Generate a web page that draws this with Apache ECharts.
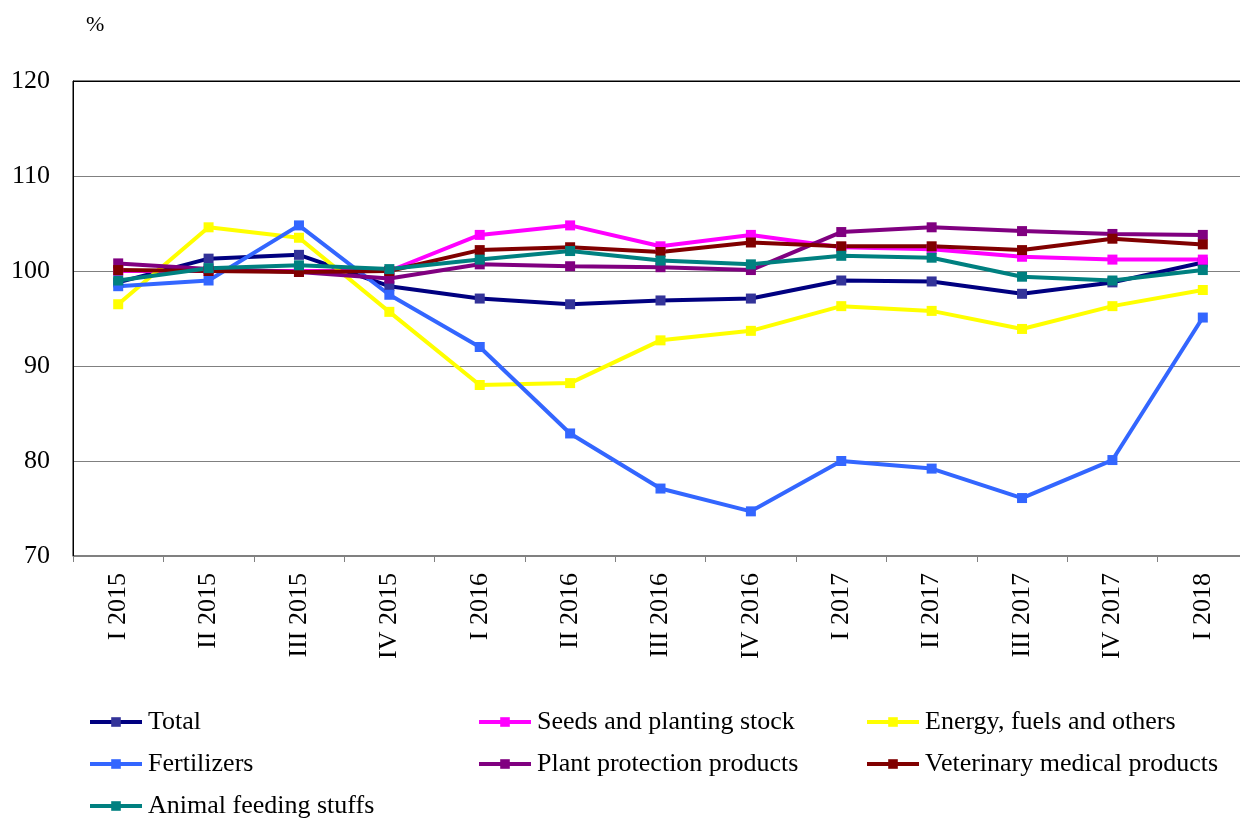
<!DOCTYPE html>
<html>
<head>
<meta charset="utf-8">
<script src="https://cdn.jsdelivr.net/npm/echarts@6/dist/echarts.min.js"></script>
<style>
  html, body { margin: 0; padding: 0; background: #fff; }
  #chart { width: 1240px; height: 819px; }
</style>
</head>
<body>
<div id="chart"></div>
<script>
// quarters on the x axis
const quarters = ['I 2015', 'II 2015', 'III 2015', 'IV 2015', 'I 2016', 'II 2016', 'III 2016',
  'IV 2016', 'I 2017', 'II 2017', 'III 2017', 'IV 2017', 'I 2018'];

// price indices, %
const total = [98.8, 101.3, 101.7, 98.4, 97.1, 96.5, 96.9, 97.1, 99.0, 98.9, 97.6, 98.8, 100.9];
const seeds = [100.0, 100.0, 100.0, 100.0, 103.8, 104.8, 102.6, 103.8, 102.5, 102.3, 101.5, 101.2, 101.2];
const energy = [96.5, 104.6, 103.5, 95.7, 88.0, 88.2, 92.7, 93.7, 96.3, 95.8, 93.9, 96.3, 98.0];
const fertilizers = [98.4, 99.0, 104.8, 97.5, 92.0, 82.9, 77.1, 74.7, 80.0, 79.2, 76.1, 80.1, 95.1];
const plantProtection = [100.8, 100.2, 99.9, 99.2, 100.7, 100.5, 100.4, 100.1, 104.1, 104.6, 104.2, 103.9, 103.8];
const veterinary = [100.1, 100.0, 99.9, 100.0, 102.2, 102.5, 102.0, 103.0, 102.6, 102.6, 102.2, 103.4, 102.8];
const animalFeed = [99.0, 100.3, 100.6, 100.2, 101.2, 102.1, 101.1, 100.7, 101.6, 101.4, 99.4, 99.0, 100.1];

const yTicks = [70, 80, 90, 100, 110, 120];

const font = 'Liberation Serif, Times New Roman, serif';

const makeSeries = (name, data, color, markerColor) => ({
  name,
  type: 'line',
  data,
  symbol: 'rect',
  symbolSize: 10,
  lineStyle: { color, width: 4 },
  itemStyle: { color: markerColor || color },
  emphasis: { disabled: true },
  animation: false
});

const legendBase = {
  orient: 'vertical',
  top: 709,
  height: 112,
  padding: 0,
  itemGap: 16,
  itemWidth: 52,
  itemHeight: 12,
  lineStyle: { width: 4 },
  textStyle: { fontFamily: font, fontSize: 26, color: '#000', padding: [0, 0, 0, 1] }
};

const chart = echarts.init(document.getElementById('chart'));
chart.setOption({
  backgroundColor: '#fff',
  animation: false,
  title: {
    text: '%',
    left: 81,
    top: 9,
    textStyle: { fontFamily: font, fontSize: 22, fontWeight: 'normal', color: '#000' }
  },
  legend: [
    Object.assign({}, legendBase, { left: 88, data: ['Total', 'Fertilizers', 'Animal feeding stuffs'] }),
    Object.assign({}, legendBase, { left: 477, data: ['Seeds and planting stock', 'Plant protection products'] }),
    Object.assign({}, legendBase, { left: 865, data: ['Energy, fuels and others', 'Veterinary medical products'] })
  ],
  grid: {
    left: 73,
    top: 81,
    width: 1175,
    height: 475,
    outerBoundsMode: 'none',
    containLabel: false,
    show: true,
    borderColor: '#000',
    borderWidth: 1
  },
  xAxis: {
    type: 'category',
    data: quarters,
    boundaryGap: true,
    axisLine: { lineStyle: { color: '#808080', width: 1 } },
    axisTick: { show: true, length: 6, interval: 0, lineStyle: { color: '#808080' } },
    axisLabel: {
      rotate: 90,
      interval: 0,
      margin: 17,
      fontFamily: font,
      fontSize: 26,
      color: '#000'
    }
  },
  yAxis: {
    type: 'value',
    min: yTicks[0],
    max: yTicks[yTicks.length - 1],
    interval: 10,
    axisLine: { show: true, lineStyle: { color: '#000', width: 1 } },
    axisTick: { show: false },
    axisLabel: { margin: 23, fontFamily: font, fontSize: 26, color: '#000' },
    splitLine: {
      show: true,
      lineStyle: { color: ['#808080', '#808080', '#808080', '#808080', '#808080', '#000'], width: 1 }
    }
  },
  series: [
    makeSeries('Total', total, '#000080', '#333399'),
    makeSeries('Seeds and planting stock', seeds, '#ff00ff'),
    makeSeries('Energy, fuels and others', energy, '#ffff00'),
    makeSeries('Fertilizers', fertilizers, '#3366ff'),
    makeSeries('Plant protection products', plantProtection, '#800080'),
    makeSeries('Veterinary medical products', veterinary, '#800000'),
    makeSeries('Animal feeding stuffs', animalFeed, '#008080')
  ]
});
</script>
</body>
</html>
